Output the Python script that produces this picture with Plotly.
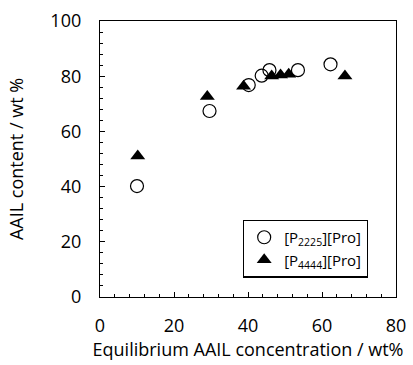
import plotly.graph_objects as go

# [P2225][Pro]
x_p2225 = [10.0, 29.6, 40.2, 43.7, 45.8, 53.5, 62.3]
y_p2225 = [40.2, 67.4, 76.8, 80.2, 82.2, 82.2, 84.3]
# [P4444][Pro]
x_p4444 = [10.2, 29.0, 38.8, 46.4, 48.8, 51.0, 66.2]
y_p4444 = [51.1, 72.6, 76.4, 80.1, 80.4, 80.7, 80.1]

font_family = "Open Sans, Liberation Sans, sans-serif"

fig = go.Figure()
fig.add_trace(go.Scatter(
    x=x_p2225, y=y_p2225, mode="markers", name="[P<sub>2225</sub>][Pro]",
    marker=dict(symbol="circle-open", size=13, color="black", line=dict(width=1.2, color="black")),
))
fig.add_trace(go.Scatter(
    x=x_p4444, y=y_p4444, mode="markers", name="[P<sub>4444</sub>][Pro]",
    marker=dict(symbol="triangle-up", size=13, color="black"),
))

axis_common = dict(
    showgrid=False, zeroline=False, showline=True, linecolor="black", linewidth=1.3,
    mirror=True, ticks="inside", ticklen=5, tickcolor="black", tickwidth=1,
    tickfont=dict(size=18, color="black", family=font_family),
    minor=dict(dtick=4, ticks="inside", ticklen=3, tickcolor="black", tickwidth=1),
    automargin=False,
)

fig.update_layout(
    width=413, height=365,
    margin=dict(l=100, r=17, t=21, b=68),
    paper_bgcolor="white", plot_bgcolor="white",
    font=dict(family=font_family, color="black"),
    xaxis=dict(range=[0, 80], dtick=20, tick0=0, ticklabelstandoff=12,
               title=dict(text="Equilibrium AAIL concentration / wt%", font=dict(size=18), standoff=2),
               **axis_common),
    yaxis=dict(range=[0, 100], dtick=20, tick0=0, ticklabelstandoff=14,
               title=dict(text="AAIL content / wt %", font=dict(size=18), standoff=22),
               **axis_common),
    legend=dict(x=0.905, y=0.07, xanchor="right", yanchor="bottom",
                bordercolor="black", borderwidth=1.3, bgcolor="white",
                font=dict(size=15, color="black"),
                itemwidth=30, tracegroupgap=0),
    showlegend=True,
)

fig.write_html("out.html")
